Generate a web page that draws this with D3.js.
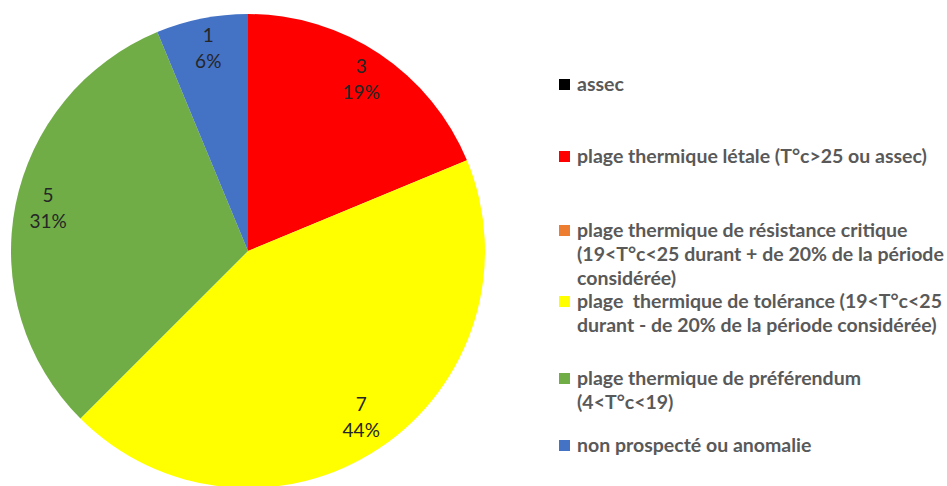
<!DOCTYPE html>
<html>
<head>
<meta charset="utf-8">
<title>Plages thermiques</title>
<script src="https://cdn.jsdelivr.net/npm/d3@7"></script>
<style>
  html, body { margin: 0; padding: 0; background: #fff; }
  svg { display: block; }
  text.lbl { font-family: Lato, 'Open Sans', sans-serif; font-size: 19px; fill: #262626; }
  text.leg { font-family: Lato, 'Open Sans', sans-serif; font-weight: 700; fill: #595959; white-space: pre; }
</style>
</head>
<body>
<svg width="947" height="486"></svg>
<script>
// categories (legend lines), values and colours
const categories = [
  ["assec"],
  ["plage thermique létale (T°c>25 ou assec)"],
  ["plage thermique de résistance critique", "(19<T°c<25 durant + de 20% de la période", "considérée)"],
  ["plage  thermique de tolérance (19<T°c<25", "durant - de 20% de la période considérée)"],
  ["plage thermique de préférendum", "(4<T°c<19)"],
  ["non prospecté ou anomalie"]
];
const values = [0, 3, 0, 7, 5, 1];
const colors = ["#000000", "#FF0000", "#ED7D31", "#FFFF00", "#70AD47", "#4472C4"];
// first-line baseline of each legend entry
const legendY = [91, 163, 237, 308, 385, 452];

const total = d3.sum(values);
const data = values.map((v, i) => ({ name: categories[i].join(" "), value: v, color: colors[i] }));

const svg = d3.select("svg");
const cx = 248, cy = 251, radius = 237;

const pie = d3.pie().sort(null).value(d => d.value);
const arc = d3.arc().innerRadius(0).outerRadius(radius);
const labelArc = d3.arc().innerRadius(radius * 0.86).outerRadius(radius * 0.86);

const g = svg.append("g").attr("transform", `translate(${cx},${cy})`);
const arcs = pie(data);

g.selectAll("path.slice")
  .data(arcs)
  .enter().append("path")
  .attr("class", "slice")
  .attr("d", arc)
  .attr("fill", d => d.data.color);

const labels = g.selectAll("text.lbl")
  .data(arcs.filter(d => d.data.value > 0))
  .enter().append("text")
  .attr("class", "lbl")
  .attr("text-anchor", "middle")
  .attr("transform", d => `translate(${labelArc.centroid(d)})`);
labels.append("tspan").attr("x", 0).attr("y", -9).text(d => d.data.value);
labels.append("tspan").attr("x", 0).attr("y", 17)
  .text(d => Math.round(d.data.value / total * 100) + "%");

// legend
const legX = 559, textX = 577, lineH = 24;
const leg = svg.append("g");
const items = leg.selectAll("g.item")
  .data(data)
  .enter().append("g")
  .attr("class", "item")
  .attr("transform", (d, i) => `translate(0,${legendY[i]})`);

items.append("rect")
  .attr("x", legX).attr("y", -12)
  .attr("width", 11).attr("height", 11)
  .attr("fill", d => d.color);

const legText = items.append("text")
  .attr("class", "leg")
  .attr("xml:space", "preserve")
  .style("font-size", "16px");
legText.selectAll("tspan")
  .data((d, i) => categories[i])
  .enter().append("tspan")
  .attr("x", textX)
  .attr("y", (d, j) => j * lineH)
  .text(d => d);

// fit font size so the longest line spans to the right edge like the original
let maxW = 0;
legText.selectAll("tspan").each(function () { maxW = Math.max(maxW, this.getComputedTextLength()); });
const fs = 16 * 367 / maxW;
legText.style("font-size", fs + "px");
</script>
</body>
</html>
